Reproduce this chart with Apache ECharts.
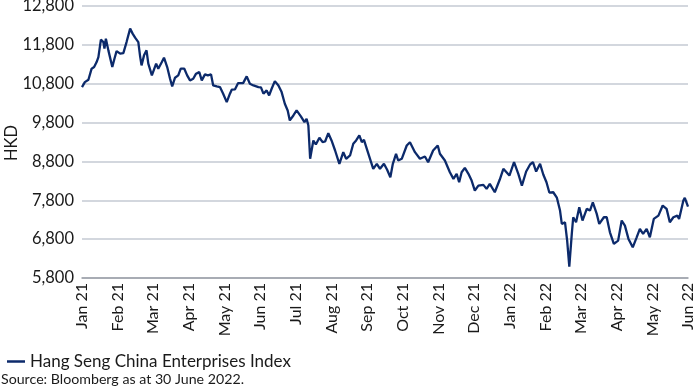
<!DOCTYPE html>
<html>
<head>
<meta charset="utf-8">
<script src="https://cdn.jsdelivr.net/npm/echarts@6/dist/echarts.min.js"></script>
<style>
html,body{margin:0;padding:0;background:#fff;}
#chart{width:700px;height:391px;}
</style>
</head>
<body>
<div id="chart"></div>
<script>
// Month labels for the x axis (position 0 = Jan 21, 17 = Jun 22)
const monthLabels = ['Jan 21','Feb 21','Mar 21','Apr 21','May 21','Jun 21','Jul 21','Aug 21','Sep 21','Oct 21','Nov 21','Dec 21','Jan 22','Feb 22','Mar 22','Apr 22','May 22','Jun 22'];
// Y axis tick labels
const yTicks = [5800, 6800, 7800, 8800, 9800, 10800, 11800, 12800];
// Time position of each reading, in months since start of Jan 2021
const monthPos = [0,0.08,0.13,0.18,0.27,0.34,0.41,0.46,0.53,0.60,0.63,0.67,0.74,0.79,0.85,0.91,0.97,1.07,1.16,1.25,1.35,1.42,1.49,1.58,1.63,1.67,1.74,1.81,1.86,1.96,1.99,2.08,2.14,2.24,2.30,2.39,2.47,2.53,2.61,2.70,2.77,2.87,2.95,3.03,3.12,3.20,3.29,3.36,3.45,3.53,3.62,3.68,3.78,3.87,3.96,4.06,4.15,4.20,4.29,4.38,4.52,4.62,4.71,4.81,4.95,5.02,5.09,5.18,5.25,5.32,5.41,5.51,5.60,5.69,5.77,5.83,5.93,6.02,6.14,6.24,6.30,6.35,6.40,6.49,6.56,6.66,6.75,6.82,6.91,7.00,7.10,7.14,7.22,7.33,7.41,7.52,7.61,7.69,7.78,7.85,7.91,7.99,8.08,8.17,8.27,8.36,8.47,8.56,8.65,8.72,8.81,8.87,8.97,9.11,9.20,9.34,9.48,9.62,9.71,9.85,9.98,10.04,10.18,10.32,10.42,10.51,10.58,10.65,10.74,10.84,10.93,11.02,11.12,11.26,11.35,11.44,11.58,11.72,11.82,11.99,12.12,12.24,12.34,12.46,12.57,12.65,12.74,12.85,12.94,13.03,13.11,13.22,13.32,13.41,13.46,13.55,13.61,13.67,13.74,13.78,13.86,13.95,14.04,14.16,14.25,14.33,14.44,14.51,14.64,14.72,14.81,14.92,15.04,15.14,15.23,15.33,15.45,15.56,15.65,15.74,15.84,15.93,16.04,16.17,16.29,16.40,16.49,16.59,16.70,16.75,16.87,16.91,17.00];
// Hang Seng China Enterprises Index level (HKD)
const hscei = [10713,10841,10800,10903,11187,11228,11357,11486,11934,11872,11702,11960,11658,11676,11228,11444,11640,11573,11589,11872,12218,12089,11986,11872,11504,11272,11530,11658,11316,11014,11058,11316,11187,11357,11470,11228,10929,10731,10955,11014,11187,11187,11014,10885,10929,11058,11099,10885,11040,11014,11040,10756,10731,10713,10543,10326,10543,10646,10653,10816,10816,10988,10800,10756,10713,10705,10543,10628,10499,10671,10867,10756,10584,10285,10112,9855,9983,10112,9958,9811,9898,9726,8868,9339,9236,9409,9295,9313,9527,9339,9081,9038,8739,9038,8868,8953,9254,9339,9468,9295,9357,9125,8868,8610,8739,8610,8739,8584,8393,8739,8996,8824,8868,9210,9295,9038,8868,8927,8780,9081,9210,8996,8824,8522,8352,8481,8264,8522,8636,8481,8308,8051,8179,8197,8094,8223,8007,8334,8610,8437,8780,8481,8179,8540,8721,8780,8540,8739,8463,8264,7999,8007,7870,7535,7192,7234,6762,6092,6935,7363,7234,7620,7278,7579,7535,7749,7450,7192,7363,7363,6976,6677,6762,7278,7149,6806,6589,6847,7064,6935,7064,6847,7321,7406,7664,7579,7234,7363,7406,7321,7793,7863,7638];
const seriesName = 'Hang Seng China Enterprises Index';
const sourceText = 'Source: Bloomberg as at 30 June 2022.';
const yAxisTitle = 'HKD';

const data = monthPos.map((t, i) => [t, hscei[i]]);
const FONT = 'Lato';
const chart = echarts.init(document.getElementById('chart'), null, {renderer: 'canvas'});
chart.setOption({
  animation: false,
  backgroundColor: '#ffffff',
  grid: {left: 82, right: 12, top: 6, bottom: 113, containLabel: false, outerBoundsMode: 'none'},
  legend: {
    show: true,
    left: 2, top: 348,
    icon: 'rect', itemWidth: 18, itemHeight: 2.5, itemGap: 6,
    textStyle: {fontFamily: FONT, fontSize: 17, color: '#1a1a1a'},
    data: [seriesName]
  },
  graphic: [{
    type: 'text', left: 1, top: 372,
    style: {text: sourceText, fontFamily: FONT, fontSize: 14.2, fill: '#1a1a1a'}
  }, {
    type: 'text', x: 12, y: 143, rotation: Math.PI / 2,
    style: {text: yAxisTitle, fontFamily: FONT, fontSize: 16.5, fill: '#1a1a1a', align: 'center', verticalAlign: 'middle'}
  }],
  xAxis: {
    type: 'value', min: 0, max: monthLabels.length - 1, interval: 1,
    axisLine: {show: true, lineStyle: {color: '#9a9ea6', width: 1.5}},
    axisTick: {show: false},
    splitLine: {show: false},
    axisLabel: {
      rotate: 90, margin: 5, fontFamily: FONT, fontSize: 16, color: '#1a1a1a',
      formatter: v => monthLabels[Math.round(v)] || ''
    }
  },
  yAxis: {
    type: 'value', min: yTicks[0], max: yTicks[yTicks.length - 1], interval: 1000,
    axisLine: {show: false},
    axisTick: {show: false},
    splitLine: {show: true, lineStyle: {color: '#c5cad3', width: 1.5}},
    axisLabel: {
      margin: 8, fontFamily: FONT, fontSize: 16.5, color: '#1a1a1a',
      formatter: v => v.toLocaleString('en-US')
    }
  },
  series: [{
    name: seriesName, type: 'line', data: data,
    showSymbol: false, symbol: 'none',
    lineStyle: {color: '#0c2a6b', width: 2.3},
    itemStyle: {color: '#0c2a6b'}
  }]
});
</script>
</body>
</html>
